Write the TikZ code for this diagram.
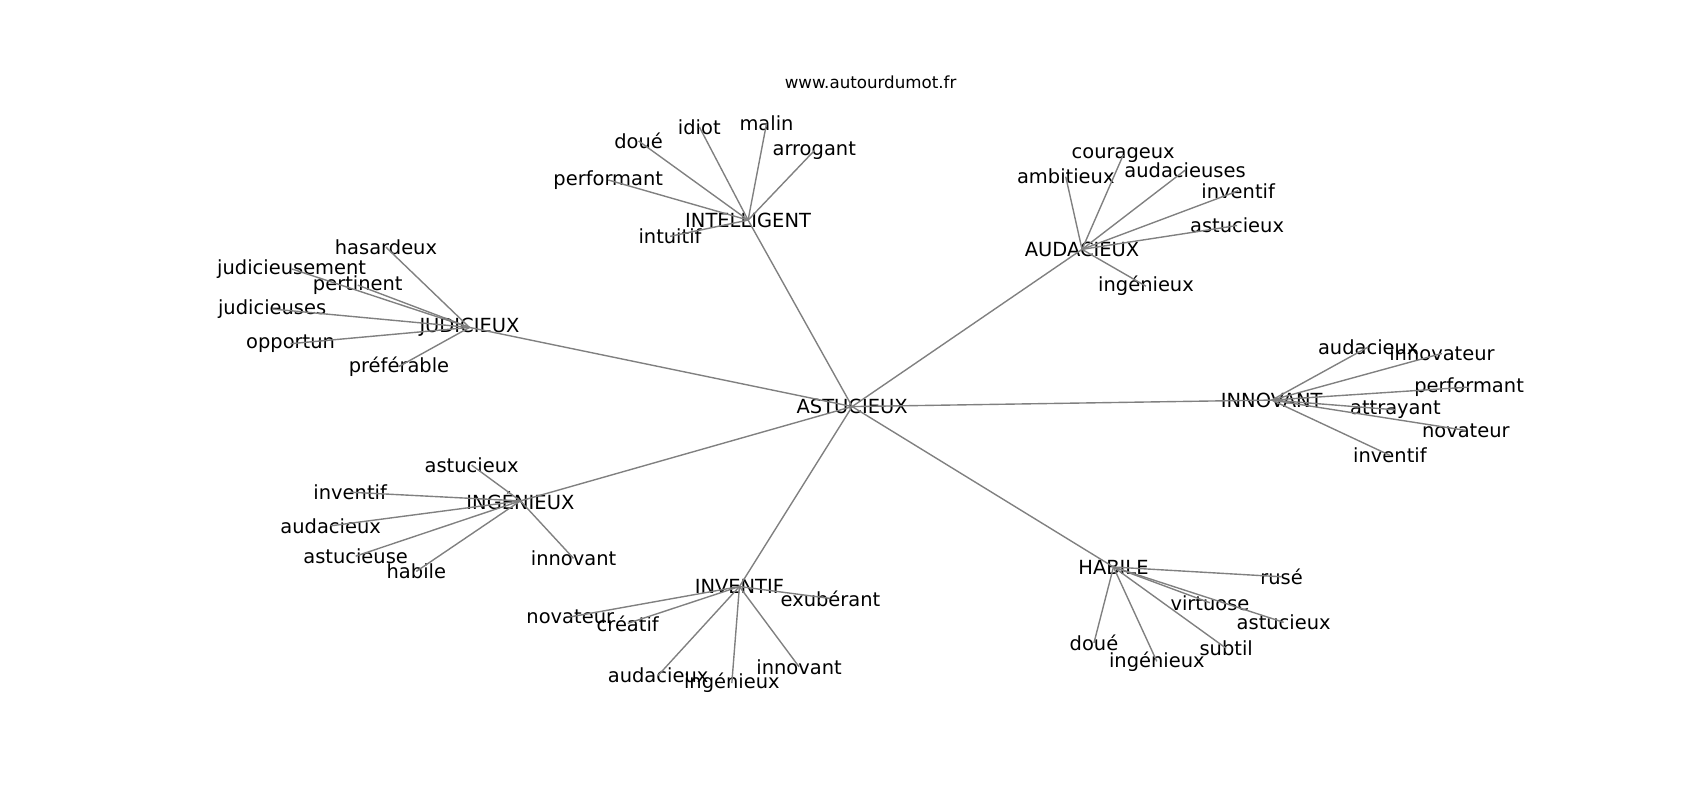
\documentclass[tikz,border=0pt]{standalone}
\usepackage{fontspec}
\setmainfont{DejaVu Sans}
\usepackage{tikz}
\usetikzlibrary{positioning}

\tikzset{
    word/.style={inner sep=0pt, font=\fontsize{14}{16}\selectfont},
    link/.style={draw=gray, line width=1pt}
}

\begin{document}
\begin{tikzpicture}[x=0.78pt, y=-0.78pt]
        \useasboundingbox (0, 0) rectangle (1568, 738);

        % Title
        \node[font=\fontsize{12}{14}\selectfont] (title) at (803, 76) {www.autourdumot.fr};

        % Centre
        \node[word] (ast) at (786, 375) {ASTUCIEUX};

        % Intelligent
        \node[word] (int) at (690, 203) {INTELLIGENT};
        \node[word] (int-perf) at (561, 166) {performant};
        \node[word] (int-doue) at (589, 130) {doué};
        \node[word] (int-idio) at (645, 117) {idiot};
        \node[word] (int-mali) at (707, 114) {malin};
        \node[word] (int-arro) at (751, 139) {arrogant};
        \node[word] (int-intu) at (618, 218) {intuitif};

        % Audacieux
        \node[word] (aud) at (998, 230) {AUDACIEUX};
        \node[word] (aud-ambi) at (983, 163) {ambitieux};
        \node[word] (aud-cour) at (1036, 143) {courageux};
        \node[word] (aud-auds) at (1093, 157) {audacieuses};
        \node[word] (aud-inve) at (1142, 176) {inventif};
        \node[word] (aud-astu) at (1141, 208) {astucieux};
        \node[word] (aud-inge) at (1057, 264) {ingénieux};

        % Judicieux
        \node[word] (jud) at (433, 302) {JUDICIEUX};
        \node[word] (jud-hasa) at (356, 228) {hasardeux};
        \node[word] (jud-jmen) at (269, 248) {judicieusement};
        \node[word] (jud-pert) at (330, 263) {pertinent};
        \node[word] (jud-juds) at (251, 285) {judicieuses};
        \node[word] (jud-oppo) at (268, 317) {opportun};
        \node[word] (jud-pref) at (368, 338) {préférable};

        % Innovant
        \node[word] (inn) at (1173, 369) {INNOVANT};
        \node[word] (inn-auda) at (1262, 320) {audacieux};
        \node[word] (inn-inno) at (1330, 326) {innovateur};
        \node[word] (inn-perf) at (1355, 357) {performant};
        \node[word] (inn-attr) at (1287, 378) {attrayant};
        \node[word] (inn-nova) at (1352, 397) {novateur};
        \node[word] (inn-inve) at (1282, 420) {inventif};

        % Ingenieux
        \node[word] (ing) at (480, 462) {INGÉNIEUX};
        \node[word] (ing-astu) at (435, 429) {astucieux};
        \node[word] (ing-inve) at (323, 454) {inventif};
        \node[word] (ing-auda) at (305, 485) {audacieux};
        \node[word] (ing-asts) at (328, 513) {astucieuse};
        \node[word] (ing-habi) at (384, 527) {habile};
        \node[word] (ing-inno) at (529, 515) {innovant};

        % Inventif
        \node[word] (inv) at (682, 541) {INVENTIF};
        \node[word] (inv-exub) at (766, 552) {exubérant};
        \node[word] (inv-nova) at (526, 569) {novateur};
        \node[word] (inv-crea) at (579, 575) {créatif};
        \node[word] (inv-auda) at (607, 623) {audacieux};
        \node[word] (inv-inge) at (675, 630) {ingénieux};
        \node[word] (inv-inno) at (737, 615) {innovant};

        % Habile
        \node[word] (hab) at (1027, 523) {HABILE};
        \node[word] (hab-ruse) at (1182, 532) {rusé};
        \node[word] (hab-virt) at (1116, 556) {virtuose};
        \node[word] (hab-astu) at (1184, 574) {astucieux};
        \node[word] (hab-subt) at (1131, 598) {subtil};
        \node[word] (hab-doue) at (1009, 593) {doué};
        \node[word] (hab-inge) at (1067, 610) {ingénieux};

        % Links
        \foreach \h in {int, aud, jud, inn, ing, inv, hab}
            \draw[link] (ast.center) -- (\h.center);
        \foreach \w in {perf, doue, idio, mali, arro, intu}
            \draw[link] (int.center) -- (int-\w.center);
        \foreach \w in {ambi, cour, auds, inve, astu, inge}
            \draw[link] (aud.center) -- (aud-\w.center);
        \foreach \w in {hasa, jmen, pert, juds, oppo, pref}
            \draw[link] (jud.center) -- (jud-\w.center);
        \foreach \w in {auda, inno, perf, attr, nova, inve}
            \draw[link] (inn.center) -- (inn-\w.center);
        \foreach \w in {astu, inve, auda, asts, habi, inno}
            \draw[link] (ing.center) -- (ing-\w.center);
        \foreach \w in {exub, nova, crea, auda, inge, inno}
            \draw[link] (inv.center) -- (inv-\w.center);
        \foreach \w in {ruse, virt, astu, subt, doue, inge}
            \draw[link] (hab.center) -- (hab-\w.center);

    \end{tikzpicture}
\end{document}
